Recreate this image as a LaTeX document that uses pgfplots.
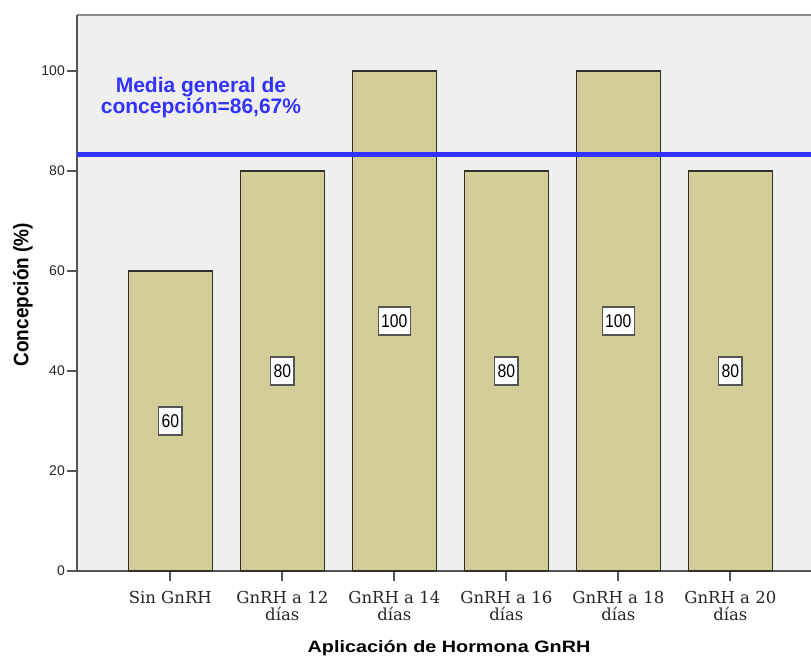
\documentclass[border=0pt]{standalone}
\usepackage{pgfplots}
\pgfplotsset{compat=1.18}
\usepackage{pgfplotstable}
\usepackage{graphicx}
\usepackage{fontspec}
\setmainfont{Liberation Sans}
\newfontfamily\tickserif{DejaVu Serif}

\definecolor{panelbg}{RGB}{239,239,239}
\definecolor{barfill}{RGB}{211,206,152}
\definecolor{baredge}{RGB}{50,50,45}
\definecolor{axisdark}{RGB}{85,85,85}
\definecolor{framegray}{RGB}{138,138,138}
\definecolor{meanblue}{RGB}{51,51,255}

% Conception rate (%) per GnRH application group
\pgfplotstableread{
x v
0 60
1 80
2 100
3 80
4 100
5 80
}\concepcion

\begin{document}
\begin{tikzpicture}
\path[use as bounding box] (0,0) rectangle (811bp,657bp);
\begin{axis}[
  at={(77bp,86bp)}, anchor=south west,
  width=734bp, height=556bp, scale only axis,
  xmin=-0.833, xmax=5.72,
  ymin=0, ymax=111.2,
  axis background/.style={fill=panelbg},
  axis line style={draw=none},
  tick align=outside,
  major tick length=10bp,
  tick style={draw=axisdark, line width=1.8bp},
  xtick=data,
  xticklabels={Sin GnRH, {GnRH a 12\\días}, {GnRH a 14\\días}, {GnRH a 16\\días}, {GnRH a 18\\días}, {GnRH a 20\\días}},
  xticklabel style={font=\tickserif\fontsize{16.5bp}{17bp}\selectfont, align=center, text=black!85, inner sep=0pt, yshift=-10bp},
  ytick={0,20,40,60,80,100},
  yticklabel style={font=\fontsize{14bp}{16bp}\selectfont, text=black!85, inner sep=0pt, xshift=-2bp},
  /pgf/number format/assume math mode=true,
  xtick pos=bottom, ytick pos=left,
  xlabel={\scalebox{1.2}[1]{Aplicación de Hormona GnRH}},
  every axis x label/.style={at={(rel axis cs:0.5,0)}, anchor=center, yshift=-77bp, xshift=5bp,
    font=\bfseries\fontsize{16.5bp}{18bp}\selectfont},
  ylabel={\scalebox{1}[1.1]{Concepción (\%)}},
  every axis y label/.style={at={(rel axis cs:-0.0736,0.497)}, anchor=center, rotate=90,
    font=\bfseries\fontsize{19bp}{20bp}\selectfont},
  clip=false,
]
% panel frame: left and bottom axes, light top border
\draw[framegray, line width=2bp] (rel axis cs:0,1) -- (rel axis cs:1,1);
\draw[axisdark, line width=2bp] (rel axis cs:0,0) -- (rel axis cs:0,1);
\draw[axisdark, line width=2bp] (rel axis cs:0,0) -- (rel axis cs:1,0);

\addplot[ybar, bar width=84bp, fill=barfill, draw=baredge, line width=1.5bp]
  table[x=x, y=v] {\concepcion};

% value labels centred in each bar
\addplot[draw=none, mark=none, nodes near coords={\scalebox{0.85}[1]{\pgfmathprintnumber{\pgfplotspointmeta}}},
  point meta=explicit,
  nodes near coords style={anchor=center, fill=white, draw=axisdark, line width=1.3bp,
    font=\fontsize{18.5bp}{19bp}\selectfont, inner xsep=3bp, inner ysep=0pt,
    text height=13bp, text depth=0pt, minimum height=28bp}]
  table[x=x, y expr=\thisrow{v}/2, meta=v] {\concepcion};

% overall mean line
\addplot[meanblue, line width=5.5bp] coordinates {(-0.833,83.33) (5.72,83.33)};

\node[text=meanblue, font=\bfseries\fontsize{21bp}{21bp}\selectfont, align=center]
  at (axis cs:0.274,94.6) {Media general de\\concepción=86,67\%};
\end{axis}
\end{tikzpicture}
\end{document}
